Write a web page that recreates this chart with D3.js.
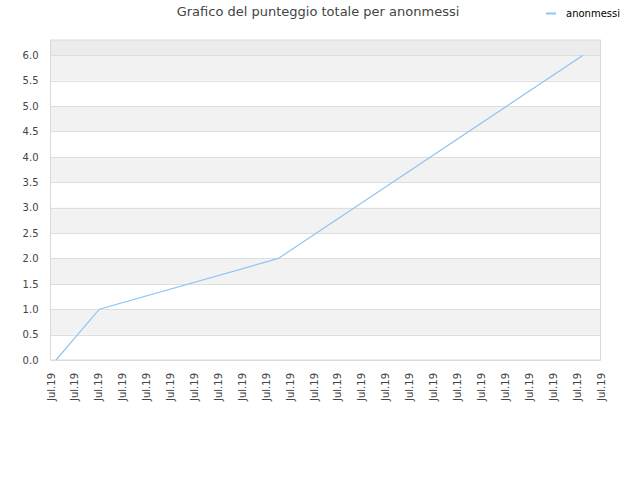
<!DOCTYPE html>
<html>
<head>
<meta charset="utf-8">
<script src="https://cdn.jsdelivr.net/npm/d3@7"></script>
<style>
  body { margin: 0; background: #fff; }
  svg { font-family: "DejaVu Sans", sans-serif; }
</style>
</head>
<body>
<div id="chart"></div>
<script>
// data
const seriesName = 'anonmessi';
const pointDates = ['2019-07-01T05:30', '2019-07-03T01:00', '2019-07-10T12:45', '2019-07-23T06:30'];
const pointScores = [0, 1, 2, 6];
const xStart = '2019-07-01T00:00';
const xEnd = '2019-07-24T00:00';
const yTicks = [0, 0.5, 1, 1.5, 2, 2.5, 3, 3.5, 4, 4.5, 5, 5.5, 6];

const width = 640, height = 480;
const margin = {top: 40, right: 39.5, bottom: 120, left: 50.5};
const w = width - margin.left - margin.right;
const h = height - margin.top - margin.bottom;

const parse = d3.timeParse('%Y-%m-%dT%H:%M');
const data = pointDates.map((d, i) => ({date: parse(d), score: pointScores[i]}));

const svg = d3.select('#chart').append('svg')
    .attr('width', width)
    .attr('height', height);

const g = svg.append('g')
    .attr('transform', `translate(${margin.left},${margin.top})`);

const x = d3.scaleTime()
    .domain([parse(xStart), parse(xEnd)])
    .range([0, w]);

const y = d3.scaleLinear()
    .domain([0, 6.3])
    .range([h, 0]);

// top band above last tick
g.append('rect')
    .attr('x', 0).attr('y', 0)
    .attr('width', w).attr('height', y(6))
    .attr('fill', '#ececec');

// alternating bands
for (let i = 0; i < yTicks.length - 1; i++) {
    if (i % 2 === 1) {
        g.append('rect')
            .attr('x', 0)
            .attr('y', y(yTicks[i + 1]))
            .attr('width', w)
            .attr('height', y(yTicks[i]) - y(yTicks[i + 1]))
            .attr('fill', '#f2f2f2');
    }
}

// gridlines
g.selectAll('.grid')
    .data(yTicks)
    .enter()
    .append('line')
    .attr('x1', 0).attr('x2', w)
    .attr('y1', d => Math.round(y(d)) + 0.5)
    .attr('y2', d => Math.round(y(d)) + 0.5)
    .attr('stroke', '#dedede')
    .attr('stroke-width', 1);

// frame
g.append('rect')
    .attr('x', 0).attr('y', 0)
    .attr('width', w).attr('height', h)
    .attr('fill', 'none')
    .attr('stroke', '#d9d9d9');

// y axis
const yAxis = g.append('g')
    .call(d3.axisLeft(y).tickValues(yTicks).tickFormat(d3.format('.1f')).tickSize(0).tickPadding(12));
yAxis.select('.domain').remove();
yAxis.selectAll('text')
    .style('font-size', '10px')
    .style('fill', '#444')
    .style('font-family', '"DejaVu Sans", sans-serif');

// x axis
const xAxis = g.append('g')
    .attr('transform', `translate(0,${h})`)
    .call(d3.axisBottom(x).ticks(d3.timeDay.every(1)).tickFormat(d3.timeFormat('%b.%y')).tickSize(0));
xAxis.select('.domain').remove();
xAxis.selectAll('text')
    .attr('transform', 'rotate(-90)')
    .attr('text-anchor', 'end')
    .attr('x', -13)
    .attr('y', 0)
    .attr('dy', '0.35em')
    .style('font-size', '10px')
    .style('fill', '#444')
    .style('font-family', '"DejaVu Sans", sans-serif');

// line
const line = d3.line()
    .x(d => x(d.date))
    .y(d => y(d.score));

g.append('path')
    .datum(data)
    .attr('fill', 'none')
    .attr('stroke', '#90c4f5')
    .attr('stroke-width', 1.2)
    .attr('d', line);

// title
svg.append('text')
    .attr('x', 318)
    .attr('y', 16)
    .attr('text-anchor', 'middle')
    .text('Grafico del punteggio totale per anonmessi')
    .style('font-size', '13px')
    .style('fill', '#444');

// legend
const legend = svg.append('g')
    .attr('transform', 'translate(546,13)');

legend.append('line')
    .attr('x1', 0).attr('x2', 10)
    .attr('y1', 0.5).attr('y2', 0.5)
    .attr('stroke', '#90c4f5')
    .attr('stroke-width', 2);

legend.append('text')
    .attr('x', 20)
    .attr('y', 4)
    .text(seriesName)
    .style('font-size', '10px')
    .style('fill', '#000');
</script>
</body>
</html>
